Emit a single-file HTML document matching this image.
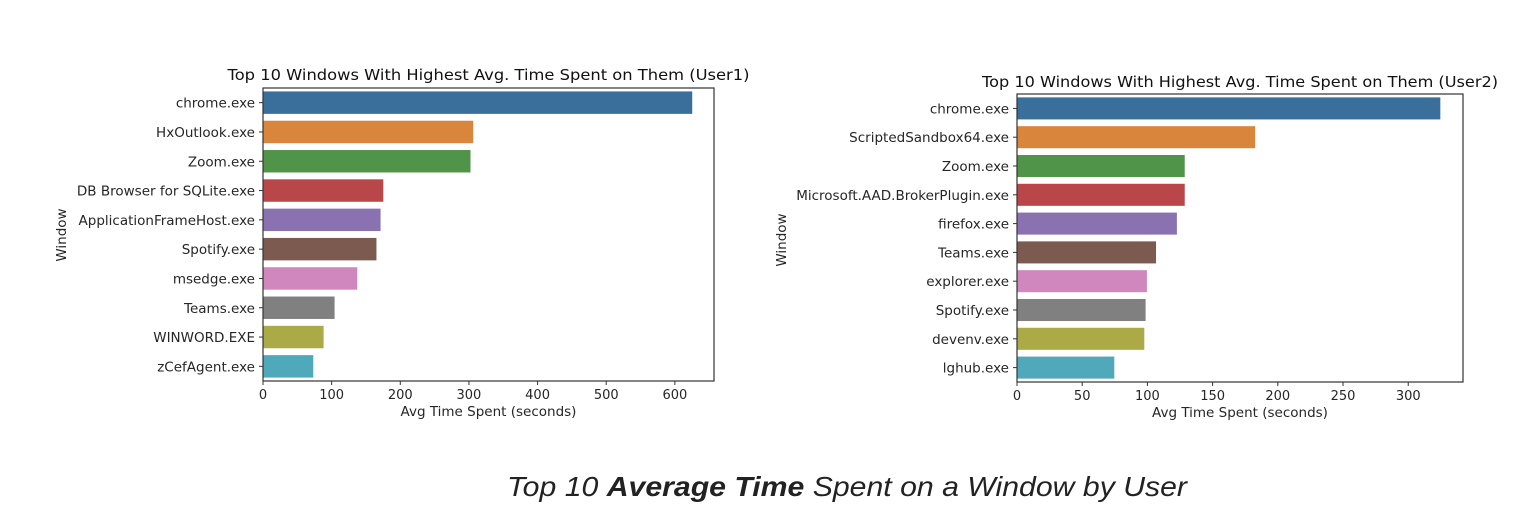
<!DOCTYPE html>
<html><head><meta charset="utf-8"><style>
body{margin:0;background:#fff;width:1522px;height:510px;overflow:hidden}
svg{display:block;font-family:"DejaVu Sans","Liberation Sans",sans-serif}
</style></head><body>
<svg id="s" width="1522" height="510" viewBox="0 0 1522 510">
<text x="847" y="496" text-anchor="middle" font-family="Liberation Sans, sans-serif" font-style="italic" font-size="28" fill="#222" textLength="680" lengthAdjust="spacingAndGlyphs">Top 10 <tspan font-weight="bold">Average Time</tspan> Spent on a Window by User</text>
</svg>
<script>
const colors=["#3a6f9c","#d9853b","#4f9448","#b9474a","#8a72b0","#7d5a50","#d087bd","#808080","#aaab47","#4fa9ba"];
const cats1=["chrome.exe","HxOutlook.exe","Zoom.exe","DB Browser for SQLite.exe","ApplicationFrameHost.exe","Spotify.exe","msedge.exe","Teams.exe","WINWORD.EXE","zCefAgent.exe"];
const vals1=[626,307,303,176,172,166,138,105,89,74];
const ticks1=[0,100,200,300,400,500,600];
const cats2=["chrome.exe","ScriptedSandbox64.exe","Zoom.exe","Microsoft.AAD.BrokerPlugin.exe","firefox.exe","Teams.exe","explorer.exe","Spotify.exe","devenv.exe","lghub.exe"];
const vals2=[325,183,129,129,123,107,100,99,98,75];
const ticks2=[0,50,100,150,200,250,300];
const NS="http://www.w3.org/2000/svg";
const svg=document.getElementById('s');
function mk(t,a,p){const e=document.createElementNS(NS,t);for(const k in a)e.setAttribute(k,a[k]);(p||svg).appendChild(e);return e;}
function chart(id,L,R,T,B,xmax,cats,vals,ticks,title,titleY,titleLen){
  const g=mk('g',{});
  
  
  const x=v=>L+(v/xmax)*(R-L);
  const band=(B-T)/cats.length;
  cats.forEach((c,i)=>{
    const cy=T+band*(i+0.5);
    const r=mk('rect',{x:L,y:cy-band*0.4,width:x(vals[i])-L,height:band*0.8,fill:colors[i],stroke:'#fff','stroke-width':1},g);
    
    
    mk('line',{x1:L-4,x2:L,y1:cy,y2:cy,stroke:'#333'},g);
    const t=mk('text',{x:L-8,y:cy+5,'text-anchor':'end','font-size':13.5,fill:'#262626'},g);
    t.textContent=c;
    
    
  });
  ticks.forEach(v=>{
    mk('line',{x1:x(v),x2:x(v),y1:B,y2:B+4,stroke:'#333'},g);
    const t=mk('text',{x:x(v),y:B+18,'text-anchor':'middle','font-size':13,fill:'#262626'},g);
    t.textContent=v;
    
    
  });
  const f=mk('rect',{x:L,y:T,width:R-L,height:B-T,fill:'none',stroke:'#333','stroke-width':1.2},g);
  
  
  const tt=mk('text',{x:(L+R)/2,y:titleY,'text-anchor':'middle','font-size':15.5,fill:'#111',textLength:titleLen,lengthAdjust:'spacingAndGlyphs'},g);
  tt.textContent=title;
  
  
  const xl=mk('text',{x:(L+R)/2,y:B+35,'text-anchor':'middle','font-size':13.5,fill:'#262626'},g);
  xl.textContent='Avg Time Spent (seconds)';
  
  
}
chart('chart-user1',263,714,88,381,657,cats1,vals1,ticks1,'Top 10 Windows With Highest Avg. Time Spent on Them (User1)',80,522);
chart('chart-user2',1017,1463,94,382,342,cats2,vals2,ticks2,'Top 10 Windows With Highest Avg. Time Spent on Them (User2)',87,516);
[[66,235],[786,240]].forEach(p=>{
  const t=mk('text',{x:p[0],y:p[1],'text-anchor':'middle','font-size':13.5,fill:'#262626',transform:'rotate(-90 '+p[0]+' '+p[1]+')'});
  t.textContent='Window';
  
  
});
</script>
</body></html>
